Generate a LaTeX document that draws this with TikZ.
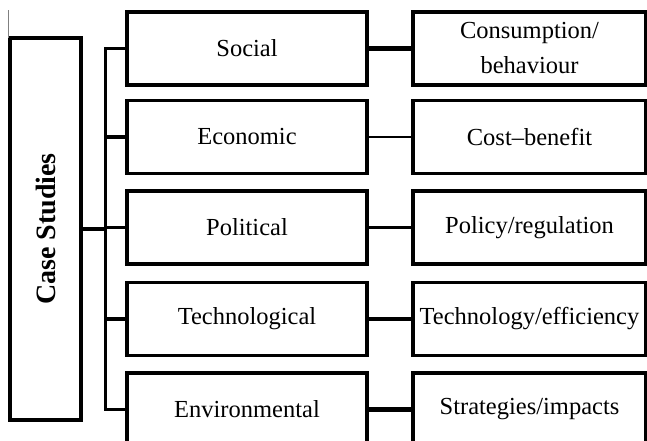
\documentclass[tikz,border=0pt]{standalone}
\usepackage{fontspec}
\setmainfont{Liberation Serif}
\begin{document}
\begin{tikzpicture}[x=1pt,y=-1pt,
  box/.style={draw, line width=3.2pt, inner sep=0pt, minimum width=240pt, minimum height=73pt,
              font=\fontsize{24.5}{35}\selectfont, align=center},
  rbox/.style={box, minimum width=233pt},
  bus/.style={line width=3.4pt, line join=miter},
  thinlink/.style={line width=2.4pt},
  thicklink/.style={line width=4.4pt}]
\useasboundingbox (0,0) rectangle (647,440);
\clip (0,0) rectangle (647,440);
% main box
\node[draw, line width=3.2pt, minimum width=71pt, minimum height=382pt, inner sep=0pt] (cs) at (45.5,229)
  {\rotatebox{90}{\fontsize{28}{32}\selectfont\bfseries Case Studies}};
\coordinate (g1) at (8,10);
\coordinate (g2) at (8,38);
\draw[gray, line width=1pt] (g1) -- (g2);
% left column
\node[box] (s1) at (247,48.5) {Social};
\node[box] (s2) at (247,137) {Economic};
\node[box] (s3) at (247,227.5) {Political};
\node[box] (s4) at (247,319) {Technological};
\node[box] (s5) at (247,409.5) {Environmental};
% right column
\node[rbox] (r1) at (529.5,48.5) {Consumption/\\behaviour};
\node[rbox] (r2) at (529.5,137) {Cost--benefit};
\node[rbox] (r3) at (529.5,227.5) {Policy/regulation};
\node[rbox] (r4) at (529.5,319) {Technology/efficiency};
\node[rbox] (r5) at (529.5,409.5) {Strategies/impacts};
% bus
\coordinate (bt) at (105.5,48.5);
\coordinate (bb) at (105.5,409.5);
\draw[bus] (s1.west) -- (bt) -- (bb) -- (s5.west);
\draw[bus] (bt |- s2.west) -- (s2.west);
\draw[bus] (bt |- s3.west) -- (s3.west);
\draw[bus] (bt |- s4.west) -- (s4.west);
\draw[bus] (cs.east) -- (cs.east -| bt);
% links
\draw[thicklink] (s1.east) -- (r1.west);
\draw[thinlink] (s2.east) -- (r2.west);
\draw[thinlink] (s3.east) -- (r3.west);
\draw[thicklink] (s4.east) -- (r4.west);
\draw[thicklink] (s5.east) -- (r5.west);
\end{tikzpicture}
\end{document}
